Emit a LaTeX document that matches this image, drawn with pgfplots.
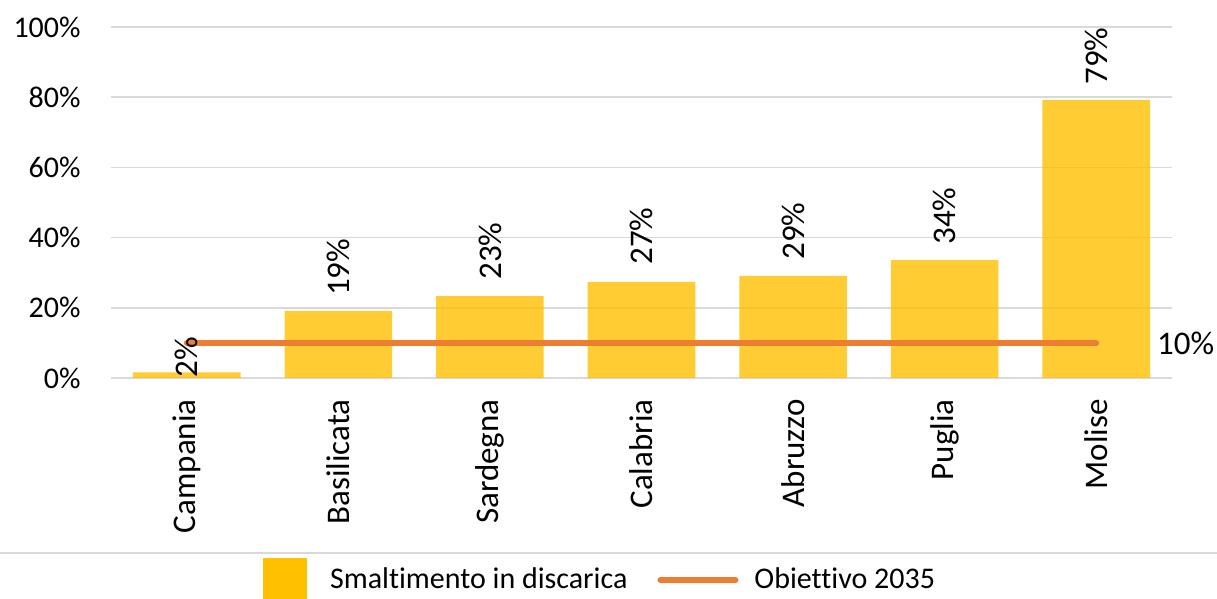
\documentclass[border=0pt]{standalone}
\usepackage{fontspec}
\setmainfont{Carlito}[Ligatures=NoCommon]
\usepackage{pgfplots}
\usepackage{pgfplotstable}
\pgfplotsset{compat=1.18}
\definecolor{baryel}{HTML}{FFC000}
\definecolor{lineor}{HTML}{ED7D31}
\definecolor{gridg}{HTML}{D9D9D9}

\pgfplotstableread{
x y ly lv
0 1.6 0.0 2
1 19.1 23.3 19
2 23.3 27.9 23
3 27.4 32.2 27
4 29.1 33.6 29
5 33.6 37.9 34
6 79.2 83.5 79
}\datatable

\newcommand{\lblfont}{\fontsize{16.5pt}{19pt}\selectfont}
\newcommand{\tickfont}{\fontsize{15pt}{18pt}\selectfont}

\begin{document}
\begin{tikzpicture}
\path[use as bounding box] (0,0) rectangle (608.5pt,299.5pt);
\begin{axis}[
  at={(55.5pt,110.5pt)}, anchor=south west,
  scale only axis, width=530.5pt, height=175.5pt,
  xmin=-0.5, xmax=6.5, ymin=0, ymax=100,
  ytick={0,20,40,60,80,100},
  xtick={0,1,2,3,4,5,6},
  xticklabels={Campania,Basilicata,Sardegna,Calabria,Abruzzo,Puglia,Molise},
  xticklabel style={rotate=90, anchor=east, inner sep=0pt, font=\lblfont},
  xticklabel shift=10.5pt,
  yticklabel={\pgfmathprintnumber{\tick}\%},
  yticklabel style={anchor=east, inner sep=0pt, font=\tickfont},
  yticklabel shift=15pt,
  /pgf/number format/assume math mode=true,
  ymajorgrids, grid style={gridg, line width=0.75pt},
  axis line style={draw=none},
  major tick length=0pt,
  clip=false,
  legend style={at={(0.1433,-0.5755)}, anchor=west, draw=none, fill=none,
    legend columns=2, font=\tickfont, inner sep=0pt, outer sep=0pt,
    nodes={inner sep=0pt},
    /tikz/every odd column/.append style={column sep=8pt},
    /tikz/every even column/.append style={column sep=15pt}},
  legend cell align=left,
]
\addplot[ybar, bar width=0.71, fill=baryel, fill opacity=0.8, draw=none,
  legend image code/.code={\fill[baryel, fill opacity=1] (0pt,-11pt) rectangle (22pt,11pt); \path (25.5pt,0pt);}]
  table[x=x, y=y] {\datatable};
\addlegendentry{Smaltimento in discarica}
\addplot[lineor, line width=3pt, line cap=round, mark=none,
  legend image code/.code={\draw[lineor, line width=3pt] (0pt,0pt) -- (37.5pt,0pt);}]
  coordinates {(0,10) (6,10)}
  node[pos=1, anchor=west, inner sep=0pt, xshift=29pt, font=\lblfont, text=black] {10\%};
\addlegendentry{Obiettivo 2035}
\addplot[draw=none, mark=none, forget plot, point meta=explicit,
  nodes near coords={\pgfmathprintnumber[fixed,precision=0]{\pgfplotspointmeta}\%},
  nodes near coords style={rotate=90, anchor=west, inner sep=0pt, font=\lblfont, text=black}]
  table[x=x, y=ly, meta=lv] {\datatable};
\end{axis}
\draw[gridg, line width=0.75pt] (0pt,23pt) -- (608.5pt,23pt);
\end{tikzpicture}
\end{document}
